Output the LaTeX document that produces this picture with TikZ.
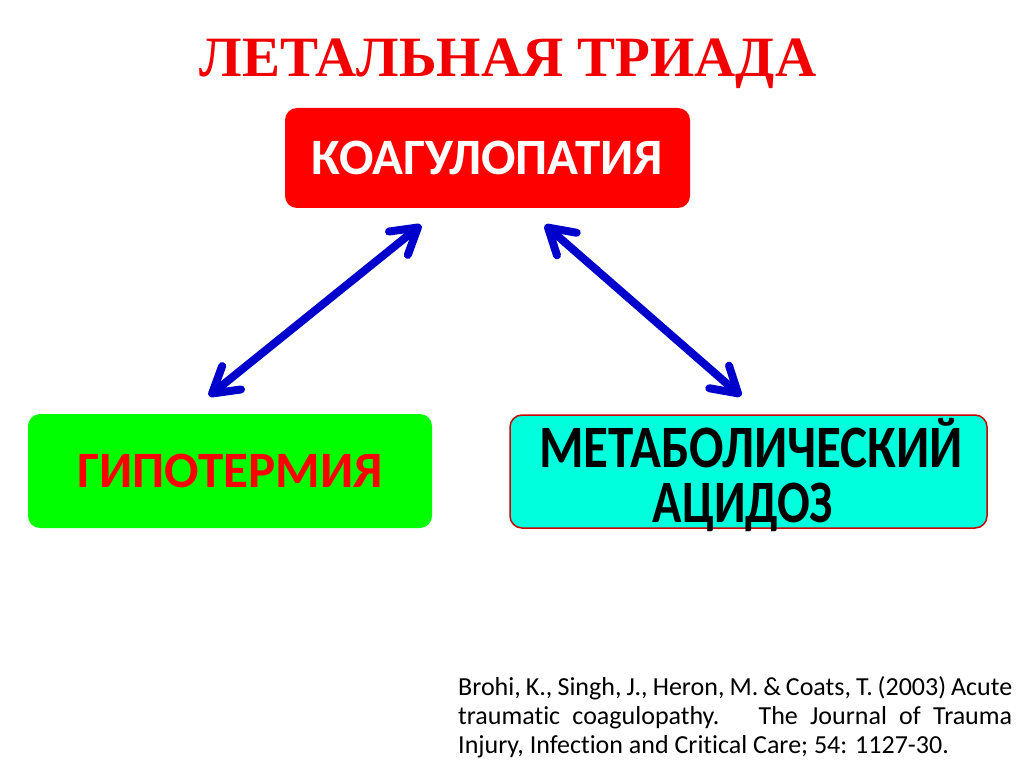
\documentclass[tikz,border=0pt]{standalone}
\usepackage{fontspec}
\setmainfont{Carlito}[Ligatures=NoCommon]
\newfontfamily\titlefont{Liberation Serif}
\usetikzlibrary{arrows.meta}
\definecolor{coagred}{HTML}{FF0000}
\definecolor{titlered}{HTML}{F20000}
\definecolor{hypogreen}{HTML}{00FF00}
\definecolor{metcyan}{HTML}{00FFDC}
\definecolor{arrowblue}{HTML}{0000CC}
\begin{document}
\begin{tikzpicture}[x=1pt,y=-1pt,
  box/.style={rounded corners=12pt, inner sep=0pt, align=center, font=\bfseries\fontsize{51}{55}\selectfont},
  link/.style={draw=arrowblue, line width=8pt, line cap=round,
    {Straight Barb[round,length=25pt,width=30pt]}-{Straight Barb[round,length=25pt,width=30pt]}}]
\useasboundingbox (0,0) rectangle (1024,767);
\fill[white] (0,0) rectangle (1024,767);
\node[anchor=base, inner sep=0pt, font=\titlefont\bfseries\fontsize{57}{60}\selectfont, text=titlered] (title) at (508,77) {ЛЕТАЛЬНАЯ ТРИАДА};
\node[box, fill=coagred, text=white, minimum width=405pt, minimum height=100pt] (coag) at (487.5,158) {КОАГУЛОПАТИЯ};
\node[box, fill=hypogreen, text=coagred, minimum width=404pt, minimum height=114pt] (hypo) at (230,471) {ГИПОТЕРМИЯ};
\node[box, fill=metcyan, draw=red!80!black, line width=1.5pt, minimum width=477pt, minimum height=113pt] (metab) at (748.5,471.5) {};
\node[anchor=base, inner sep=0pt, font=\bfseries\fontsize{51}{55}\selectfont] (metab1) at (751,467) {\scalebox{1}[1.18]{МЕТАБОЛИЧЕСКИЙ}};
\node[anchor=base, inner sep=0pt, font=\bfseries\fontsize{51}{55}\selectfont] (metab2) at (743,522) {\scalebox{0.95}[1.18]{АЦИДОЗ}};
\coordinate (c1) at (421,225);
\coordinate (h1) at (209,396);
\coordinate (c2) at (545,225);
\coordinate (m1) at (741,396);
\draw[link] (c1) -- (h1);
\draw[link] (c2) -- (m1);
\node[anchor=base west, inner sep=0pt, text width=554pt, align=justify, font=\fontsize{26}{29}\selectfont] (ref) at (458,695)
 {Brohi, K., Singh, J., Heron, M. \& Coats, T. (2003) Acute\linebreak traumatic coagulopathy.~ The Journal of Trauma\linebreak Injury, Infection and Critical Care; 54: 1127-30.};
\end{tikzpicture}
\end{document}
